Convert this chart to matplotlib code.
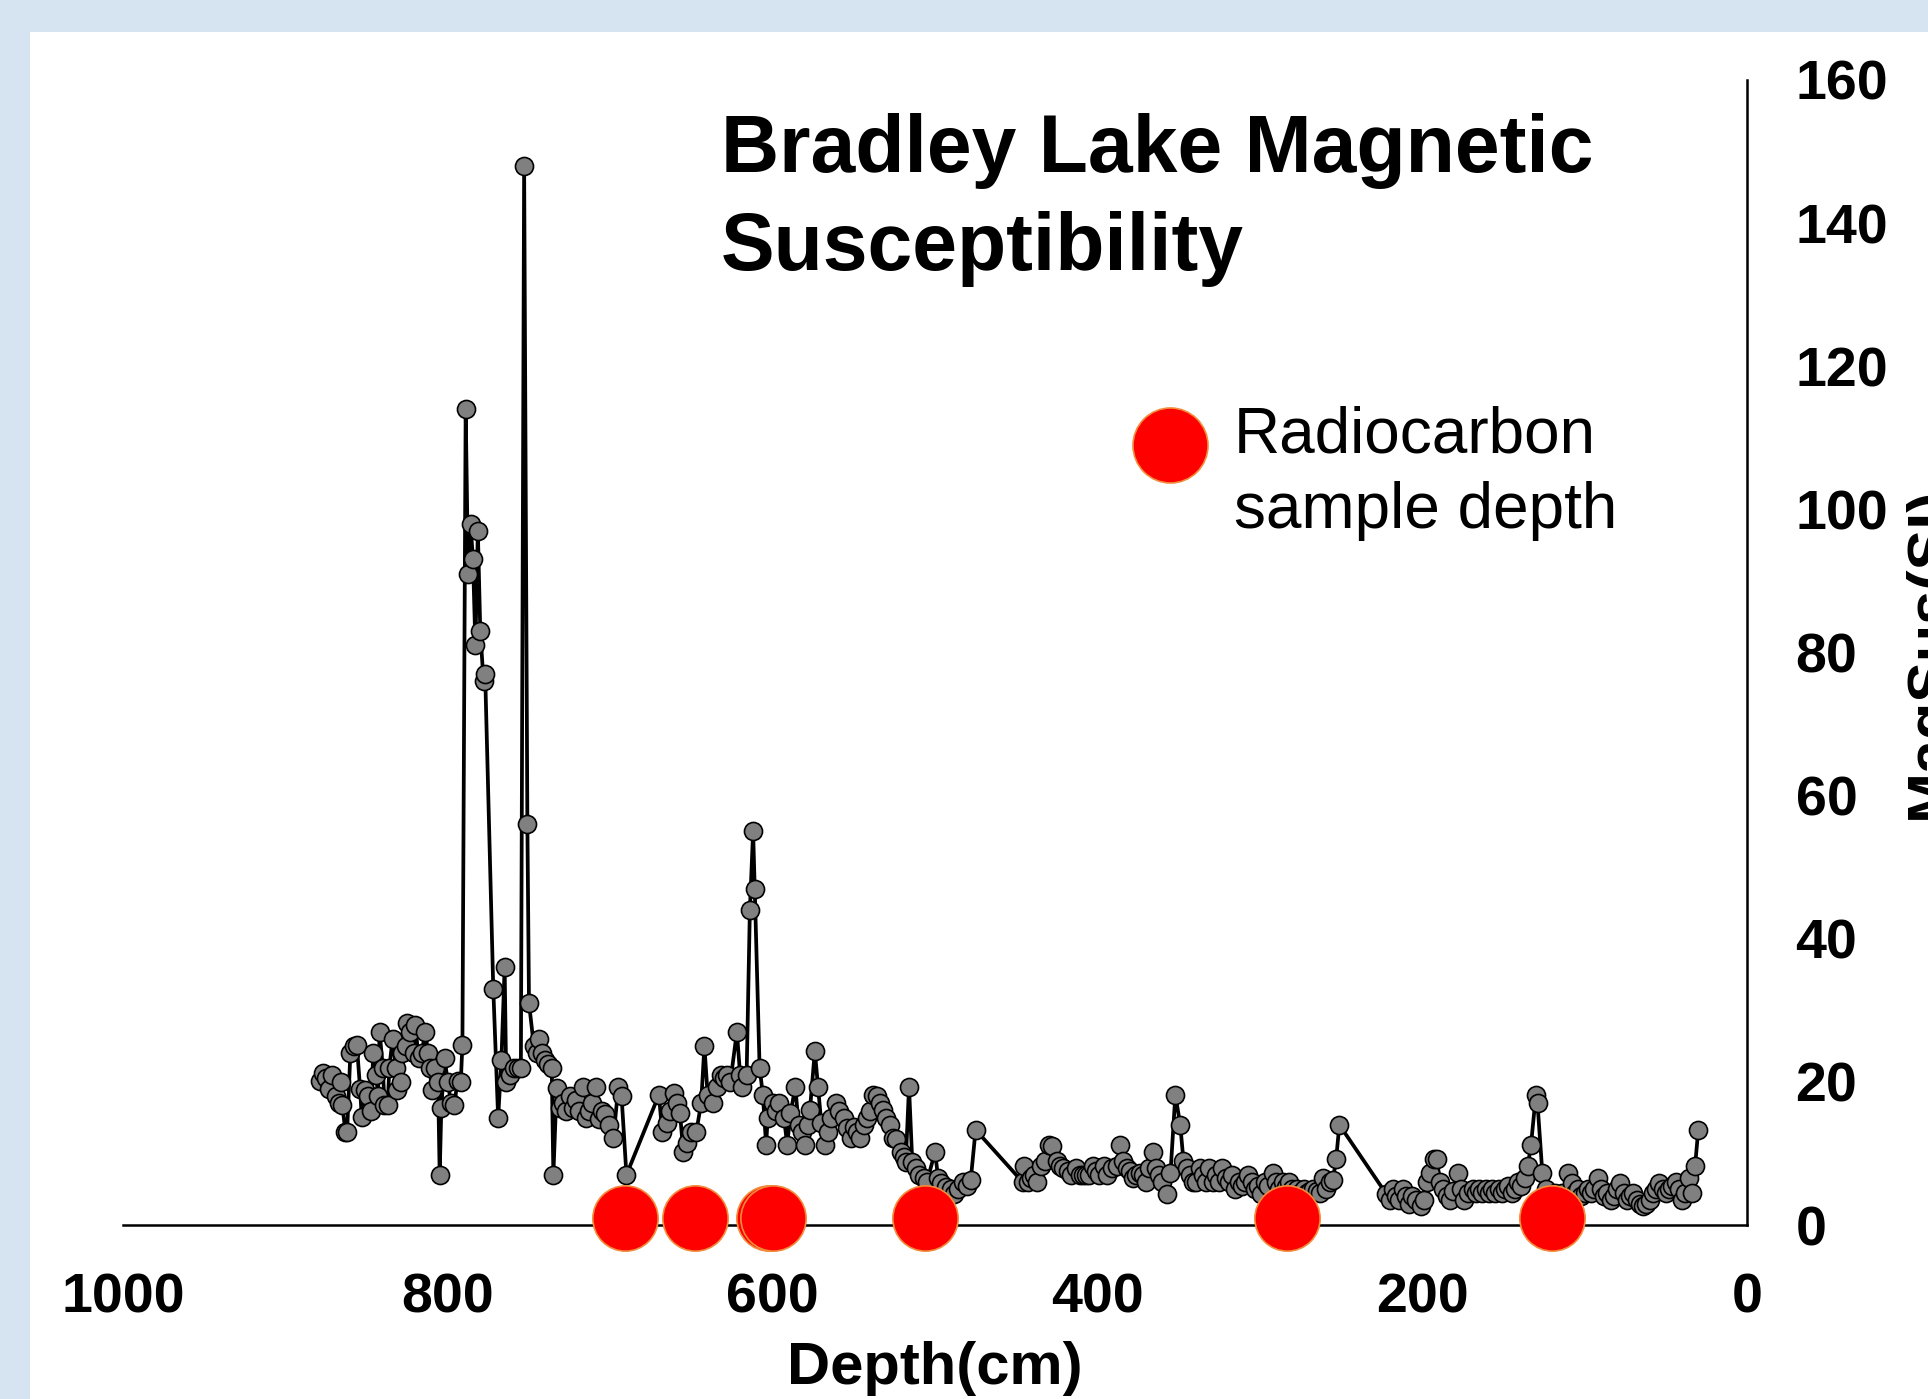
import matplotlib.pyplot as plt
from matplotlib.patches import Rectangle

# magnetic susceptibility down the core (depth in cm)
depth = [879, 877, 875, 873, 871, 869, 867, 866, 865, 863, 862, 860, 858, 856,
         854, 853, 851, 849, 847, 846, 844, 843, 842, 840, 839, 837, 836, 834,
         832, 831, 829, 828, 826, 825, 823, 821, 820, 818, 816, 814, 812, 811,
         810, 808, 806, 805, 804, 802, 800, 798, 796, 794, 792, 791,
         789, 787.5, 786, 784.5, 783, 781.5, 780, 778, 777, 772, 769, 767, 765,
         764, 762, 759, 757, 755, 753, 751, 750, 747, 745, 744, 742, 740, 738,
         736, 735, 733, 731, 729, 727, 725, 723, 721, 719, 717, 715, 713, 711,
         709, 707, 705, 703, 701, 698, 695, 693, 690,
         670, 668, 665, 663, 661, 659, 657, 655, 653, 650, 647, 644, 642, 640,
         637, 634, 632, 630, 628, 626, 622, 620, 619, 616, 614, 612, 611, 608,
         606, 604, 603, 600, 598, 596, 593, 591, 589, 586, 584, 582, 580, 578,
         577, 574, 572, 570, 568, 566, 564, 561, 559, 556, 554, 552, 550, 548,
         546, 544, 542, 540, 538, 536, 534, 532, 530, 528, 526, 524, 521, 519,
         518, 516, 514, 512, 510, 507, 505, 500, 498, 496, 493, 490, 488, 486,
         483, 480, 478, 475,
         446, 445, 443, 441, 439, 437, 435, 432, 430, 428, 425, 423, 421, 418,
         416, 413, 411, 409, 407, 405, 403, 401, 399, 396, 394, 391, 388, 386,
         384, 382, 380, 378, 376, 374, 372, 370, 368, 366, 364, 362, 360, 357,
         355, 352, 349, 347, 345, 343, 341, 339, 337, 335, 333, 331, 329, 327,
         325, 323, 321, 319, 317, 315, 313, 311, 309, 307, 305, 303, 301, 299,
         297, 295, 292, 290, 288, 286, 284, 282, 280, 277, 275, 273, 271, 269,
         267, 265, 263, 261, 259, 257, 255, 253, 251,
         222, 220, 218, 216, 214, 212, 210, 208, 206, 204, 201, 199, 197, 195,
         193, 191, 189, 187, 185, 183, 181, 178, 176, 174, 172, 169, 167, 165,
         163, 161, 159, 157, 155, 153, 151, 149, 147, 145, 143, 141, 139, 137,
         135, 133, 130, 129, 126, 124, 122, 120, 118, 116, 114, 112, 110, 108,
         106, 104, 102, 100, 98, 96, 94, 92, 90, 88, 86, 84, 82, 80, 78, 76,
         74, 72, 70, 68, 66, 64, 62, 60, 58, 56, 54, 52, 50, 48, 46, 44, 42,
         40, 38, 36, 34, 32, 30]
magsus = [20.1, 21.2, 20.5, 19, 20.9, 18, 17, 20, 16.8, 13, 13, 24, 25, 25.2,
          19, 15.1, 18.9, 18, 16, 24, 20.9, 18, 27, 22, 16.8, 16.8, 22, 26,
          22, 18.9, 20, 24, 25, 28.2, 27, 24, 28, 23.3, 24, 27, 24, 22,
          18.9, 22, 20, 7, 16.3, 23.3, 20, 17, 16.8, 20.1, 20, 25.2,
          114, 91, 98, 93, 81, 97, 83, 76, 77, 33, 15, 23, 36,
          20, 21, 22, 22, 22, 148, 56, 31, 25, 24, 26, 24, 23, 22.5,
          22, 7, 19.1, 16.3, 17, 16, 18, 16.3, 17.5, 16, 19.3, 15, 16, 17,
          19.3, 14.8, 16, 15.5, 14, 12.2, 19.3, 18, 7,
          18.2, 13, 14.2, 16, 18.4, 17, 15.6, 10.2, 11.4, 13, 13, 17, 25, 18.2,
          17, 19.3, 21, 20.5, 21, 20, 27, 21, 19.3, 21, 44, 55, 47, 22,
          18.2, 11.2, 15, 17, 16, 17, 15, 11.2, 15.6, 19.3, 14, 13, 11.2, 14,
          16.1, 24.3, 19.3, 14.2, 11.2, 13, 15, 17, 16, 15, 13.5, 12.2, 13.7, 13,
          12.2, 14, 15, 16, 18.2, 18, 17, 16.1, 15, 14, 12.2, 12, 10.2, 9.5,
          8.8, 19.3, 8.8, 8, 7, 6.5, 6, 10.2, 6.5, 5.8, 5.3, 5, 4.3, 5,
          6, 5.5, 6.3, 13.3,
          6, 8.2, 6, 6.5, 7, 6, 8.2, 9, 11.2, 11, 9, 8.2, 8, 7.5,
          7, 8, 7, 7, 7, 7, 8.2, 7.5, 7, 8.2, 7, 8, 8.2, 11.2,
          9, 8, 7.5, 6.5, 7, 7.2, 7, 6, 8, 10.2, 8, 7, 6, 4.3,
          7.2, 18.2, 14, 9, 8, 7, 6, 6, 8, 7, 6, 8, 6, 7,
          6, 8, 6.5, 6, 7, 5, 6, 5.5, 6, 7, 6, 5, 5.5, 4.3,
          6, 5.5, 7.2, 6, 5, 6, 5.3, 6, 5, 5, 4.5, 5, 4.5, 4.7,
          5, 4.7, 4.5, 6.5, 5, 6, 6.3, 9.2, 14,
          4.3, 3.5, 5, 4, 3.5, 5, 4, 3, 4, 3.5, 2.6, 3.5, 6, 7.2,
          9.2, 9.2, 6, 5, 4, 3.5, 4.7, 7.2, 5, 3.5, 4.5, 5, 4.5, 5,
          4.5, 5, 4.5, 5, 4.5, 5, 4.5, 5, 5.5, 4.5, 5, 6, 5.5, 6.5,
          8.2, 11.2, 18.2, 17, 7.2, 5, 4, 3.5, 4.5, 4, 4.5, 3.5, 7.2, 5.8,
          4.5, 5, 4, 4.5, 5, 4.5, 5, 6.5, 5, 4, 4.5, 3.5, 4, 5, 5.8, 4.5,
          3.5, 4, 4.5, 3.5, 3, 2.6, 3, 3.5, 4.5, 5, 5.8, 5, 4.5, 5, 5.5, 6, 5,
          3.5, 4.5, 6.5, 4.5, 8.2, 13.3]

# radiocarbon sample depths
c14_depth = [691, 648, 602, 600, 506, 283, 120]
c14_level = [1, 1, 1, 1, 1, 1, 1]

x_ticks = [1000, 800, 600, 400, 200, 0]
y_ticks = [0, 20, 40, 60, 80, 100, 120, 140, 160]

plt.rcParams['font.family'] = ['Liberation Sans', 'DejaVu Sans']

W, H = 1928, 1399
fig = plt.figure(figsize=(W / 100, H / 100), dpi=100)
fig.patch.set_facecolor('#d5e4f0')
# white slide panel behind the chart
fig.patches.append(Rectangle((30 / W, 0), 1 - 30 / W, 1 - 32 / H,
                             transform=fig.transFigure, facecolor='white',
                             edgecolor='none', zorder=-10))

ax = fig.add_axes([123 / W, 1 - 1225 / H, (1747 - 123) / W, (1225 - 80) / H])
ax.set_facecolor('none')
ax.set_zorder(1)

ax.plot(depth, magsus, color='black', lw=2.7, marker='o', ms=13,
        mfc='#808080', mec='black', mew=1.2, zorder=2)
ax.plot(c14_depth, c14_level, ls='none', marker='o', ms=47, mfc='red',
        mec='#f08c3c', mew=1.2, clip_on=False, zorder=3,
        label='Radiocarbon\nsample depth')

ax.set_xlim(1000, 0)
ax.set_ylim(0, 160)
ax.set_xticks(x_ticks)
ax.set_yticks(y_ticks)
ax.yaxis.tick_right()
ax.yaxis.set_label_position('right')

for s in ['top', 'left']:
    ax.spines[s].set_visible(False)
for s in ['bottom', 'right']:
    ax.spines[s].set_linewidth(1.8)
    ax.spines[s].set_color('black')

ax.tick_params(axis='x', length=0, pad=34, labelsize=40)
ax.tick_params(axis='y', length=0, pad=35, labelsize=40)
for lab in ax.get_xticklabels() + ax.get_yticklabels():
    lab.set_fontweight('bold')

ax.set_xlabel('Depth(cm)', fontsize=43, fontweight='bold', labelpad=12)
ax.set_ylabel('MagSus(SI)', fontsize=44, fontweight='bold', labelpad=10.5)

fig.text(721 / W, 1 - 113.4 / H, 'Bradley Lake Magnetic\nSusceptibility',
         fontsize=58, fontweight='bold', ha='left', va='top', linespacing=1.37)

leg = ax.legend(loc='lower left', bbox_to_anchor=(1138 / W, 1 - 565.5 / H),
                bbox_transform=fig.transFigure, frameon=False, fontsize=46,
                markerscale=54 / 47, handlelength=1.0, handleheight=3.77,
                handletextpad=0.5, borderpad=0, borderaxespad=0)
for t in leg.get_texts():
    t.set_linespacing(1.32)

fig.savefig('out.png', dpi=100, facecolor=fig.get_facecolor())
